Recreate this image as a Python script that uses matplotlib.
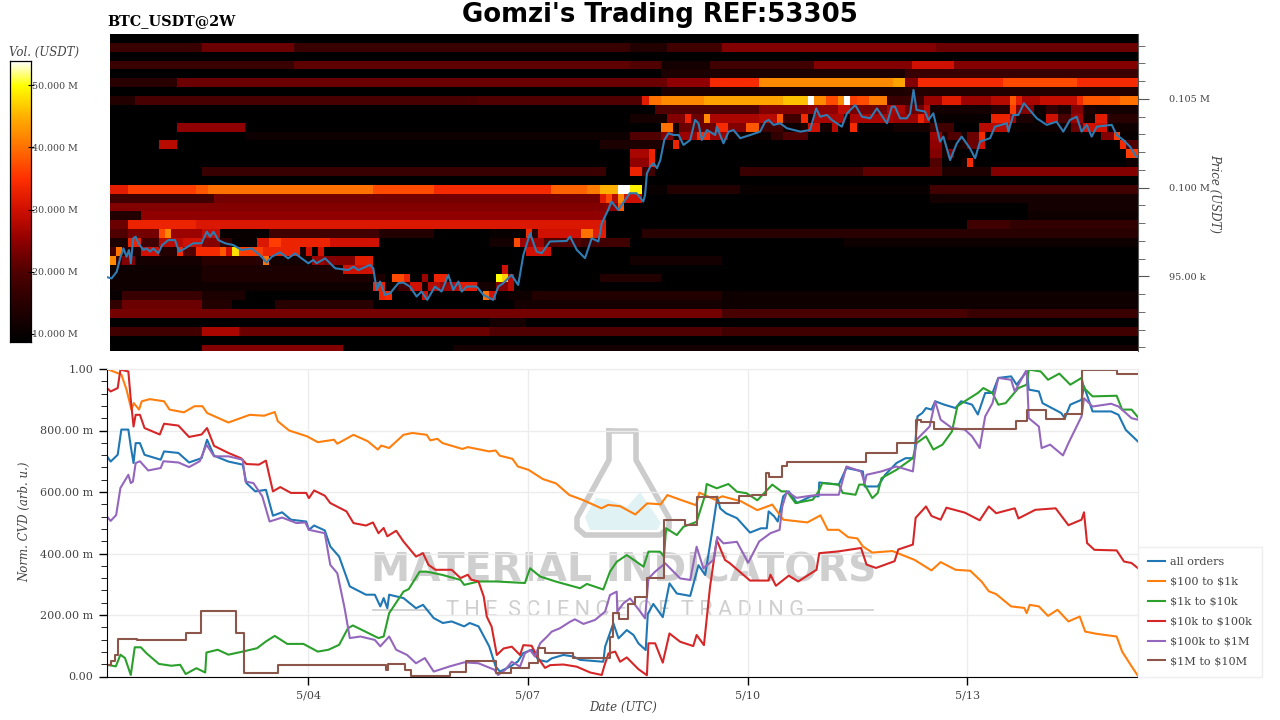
import numpy as np
import matplotlib
matplotlib.use('Agg')
import matplotlib.pyplot as plt
from matplotlib.colors import LinearSegmentedColormap, Normalize

plt.rcParams['font.family'] = 'DejaVu Serif'

# time is in hours since 5/01 00:00
t_price = [6.2,7.5,9.2,10.3,11.4,12.4,13.2,13.8,14.6,15.4,16.3,17.9,19,20.1,21.2,22.8,24.1,26.1,28.3,29.6,31.6,34.3,37,38.7,39.8,40.9,42.5,44.7,47.4,50.1,53.4,56.7,58.3,60,62.7,65.4,67.6,69.8,72,73.6,74.7,77.5,80.8,85.1,86.8,88.4,92.2,93.3,94.4,95.5,97.1,98.8,101.5,103.1,105.3,107.5,109.1,111,113.5,115.7,117.9,119.5,121.2,122.3,123.9,127.2,129.4,132.6,134.3,135.9,138.6,140.8,142.5,144.7,146.8,148.5,151.2,156.7,157.8,160,162.7,164.9,167.1,168.2,170.3,171.4,173.6,177.4,179.6,181.8,182.4,183,184.1,185.2,186.3,187.4,188.7,190.1,191.7,193.4,195,197.2,198.8,199.9,201,202.7,205.4,205.9,208.1,209.8,211.4,213.6,216.9,220.1,221.8,222.9,224.5,226.7,228.9,233.3,236.5,238.5,239.8,242,243.6,246.9,248.6,251.3,253.5,256.2,258.4,261.7,263.3,264.3,266,268.2,269.3,270.4,271.4,274.2,275.3,276.9,279.1,280.2,282.4,284.6,286.2,288.9,290.6,292.2,293.8,295.5,297.1,301,301.5,303.1,304.8,306.6,310.8,314.1,317.3,319.5,321.7,323.9,325.5,327.2,328.8,330.5,335.4,337,339.2,341.4,343.4]
price_k = [94.95,94.89,95.27,96.02,96.58,96.11,96.49,95.74,97.15,97.24,96.87,96.49,96.58,96.4,96.58,96.3,96.77,97.05,97.05,96.4,96.58,96.87,96.87,97.52,97.24,97.52,97.05,96.87,96.77,96.49,96.58,96.11,95.78,96.11,96.36,96.02,96.3,96.02,95.74,95.93,95.74,96.02,95.46,95.36,95.55,95.36,95.65,95.46,94.24,94.71,93.96,94.05,94.62,94.66,94.43,93.87,94.15,93.68,94.43,94.15,95.09,94.24,94.71,94.15,94.43,94.43,93.96,93.68,94.43,94.62,95.09,94.52,96.21,97.44,96.4,96.31,96.97,97.0,97.25,96.5,96.03,97.15,96.97,98,98.75,99.22,98.75,99.69,99.69,99.22,99.59,100.81,101.19,101.38,101.1,101.56,102.69,103.07,102.97,102.97,102.41,102.69,103.82,103.63,102.69,103.25,102.97,103.44,102.5,103.16,103.25,102.79,102.97,103.16,103.72,103.82,103.54,103.63,103.35,103.16,103.25,104.47,104.0,104.1,103.82,103.44,104.19,104.66,104.0,103.91,104.47,103.63,104.57,104.57,103.91,103.91,104.19,105.51,104.38,104.29,103.82,104.19,102.6,102.88,101.56,102.5,102.88,102.22,101.66,102.6,102.69,102.79,103.44,103.63,103.16,104.1,104.1,104.76,103.91,103.54,103.72,103.16,103.82,104.0,103.16,103.54,102.88,103.44,103.54,102.97,102.69,102.31,101.75]

labels = ['all orders', r'\$100 to \$1k', r'\$1k to \$10k', r'\$10k to \$100k', r'\$100k to \$1M', r'\$1M to \$10M']
colors = ['#1f77b4', '#ff7f0e', '#2ca02c', '#d62728', '#9467bd', '#8c564b']

t_all = [6,7.2,9.5,10.7,13,13.8,14.7,15.4,16.8,18.3,23.6,24.7,29.4,32.9,37,38.8,41.1,45.8,50.5,51.7,54.6,58.1,60.4,63.4,66.3,71.3,72.2,73.9,77.4,79.2,82.1,85.6,90.9,93.8,95.6,96.7,97.9,98.5,103.2,107.3,109.6,113.1,116.1,119,123.1,124.9,127.8,131.3,133.4,134.8,138.3,140.7,142.4,145.3,147.4,150.2,151.8,155.6,158.9,161.1,168.7,169.3,172,173.7,176.4,178.6,180.2,182.6,183.3,185.1,188.2,190.4,192.8,197.2,199.9,202.1,204.3,206.1,207,208.9,212.5,216.8,220.4,222.3,222.9,224.7,225.9,227.7,229.5,232.2,236.8,239.3,239.5,245.9,248.4,253.8,254.4,258.7,261.1,264.8,267.8,270.6,271.7,273.3,274.5,276.3,277.5,280.5,284.2,286,289.6,291.5,293.9,296.3,298.2,302.4,304.2,307.6,308.2,311.5,312.7,318.8,320,321.8,325.5,326.3,329.1,335.2,337.6,340,344]
v_all = [.716,.699,.721,.803,.803,.748,.694,.759,.759,.721,.705,.732,.727,.696,.71,.77,.718,.699,.689,.629,.602,.607,.523,.534,.51,.504,.477,.491,.475,.423,.39,.293,.266,.266,.228,.255,.222,.266,.255,.222,.233,.19,.174,.179,.163,.174,.163,.098,.033,.016,.033,.049,.076,.087,.054,.048,.059,.07,.065,.054,.048,.097,.173,.124,.151,.135,.108,.086,.204,.236,.193,.303,.27,.262,.362,.33,.466,.585,.547,.531,.515,.468,.482,.482,.537,.521,.504,.586,.602,.564,.586,.586,.631,.624,.678,.667,.618,.618,.656,.694,.71,.71,.846,.857,.873,.868,.895,.884,.873,.895,.884,.852,.922,.922,.971,.976,.949,.993,.933,.927,.889,.857,.84,.884,.9,.944,.862,.862,.851,.802,.764]

t_100 = [6,10.7,12.4,14,14.8,16.5,17.4,20,24.7,26.5,31.2,34.7,37.3,38.8,45.8,52.8,57.5,61,62,65.7,71.6,75.1,80.4,81.5,86.8,91.5,94.8,95.9,98.5,103.2,106.1,110.8,112,114.3,116,122.5,124.3,131.3,133.4,134.8,138.9,140.7,144.2,148.9,153.2,157.6,162,168.1,170.3,174.2,179.2,183.1,187.5,189.7,194.2,199.1,200.2,205.3,207.7,213.8,219.2,224.1,227.7,235.6,239.9,242.3,245.9,249,252,253.8,256.9,263.5,270.8,276.3,279.3,284.2,289,292.7,295.1,297.5,302.4,306.7,307.5,308.5,311.5,314.5,317.6,321.2,324.9,326.7,330.3,337,338.8,341.9,344]
v_100 = [1.0,.982,.933,.868,.889,.868,.895,.902,.895,.868,.859,.879,.879,.857,.826,.851,.848,.86,.83,.8,.781,.762,.77,.757,.786,.765,.738,.751,.743,.786,.792,.786,.768,.773,.759,.74,.746,.732,.735,.718,.708,.683,.672,.642,.628,.59,.574,.547,.558,.554,.527,.563,.56,.59,.574,.557,.598,.575,.586,.57,.541,.559,.51,.501,.524,.477,.477,.453,.449,.423,.403,.408,.379,.345,.372,.347,.344,.309,.277,.268,.228,.223,.206,.233,.228,.197,.217,.179,.195,.146,.139,.13,.081,.033,.002]

t_1k = [6,8.9,10.4,11.9,13.8,15.1,17.1,18.9,23,27.1,30,31.8,35.3,38.2,38.6,42.3,45.8,50.5,55.2,58.1,61,65.1,70.4,75.1,78.6,82.1,85,86.6,95,96.7,98.5,103.2,104.9,108.5,110.8,116.1,121.9,123.1,127.8,133.6,143,144.7,148,153.4,161.1,163.3,168.7,170.9,173.1,176.4,181.9,183.5,187.3,188.6,189.3,192.8,195,199.3,202.1,202.6,205.9,209.7,212.5,215.7,219.2,224.1,227.1,228.9,231.7,237.4,239.3,240.5,245.9,247.2,251.4,252.6,254.4,256.9,258.7,259.9,264.8,270.2,271.4,274.5,276.9,279.9,283,284.8,287.2,291.5,293.3,296.3,298.2,300.6,304.8,307.5,308.2,312.1,314.5,318.2,321.8,325.5,326.3,329.1,337,338.8,341.9,344]
v_1k = [.038,.033,.071,.06,.005,.095,.095,.076,.041,.035,.038,.008,.027,.013,.078,.087,.071,.081,.092,.114,.132,.106,.106,.081,.087,.103,.157,.166,.125,.13,.206,.276,.284,.341,.341,.33,.314,.298,.309,.309,.304,.352,.325,.308,.287,.301,.283,.341,.373,.395,.357,.406,.406,.39,.482,.46,.487,.503,.59,.626,.612,.626,.601,.596,.573,.624,.602,.602,.564,.575,.602,.629,.624,.597,.591,.624,.624,.58,.597,.645,.672,.71,.759,.781,.738,.754,.797,.879,.895,.922,.938,.922,.884,.889,.938,.949,.998,.992,.965,.985,.949,.971,.938,.911,.913,.868,.868,.843]

t_10k = [6,7.2,9.5,10.4,13,13.8,14.7,15.4,16.8,18.3,23.3,24.7,29.4,32.9,37,38.8,41.1,45.8,49.9,51.7,55.8,58.1,60.4,62.8,66.3,71.3,72.2,73.9,77.4,79.2,84.5,86.8,90.9,93.2,95,96.7,97.9,100.8,103.2,107.3,109.6,111.4,113.7,119,121.9,124.3,125.4,127.8,129.5,130.5,132.1,133.8,136,138.7,141.4,142.5,145.2,147.4,149.6,151.3,155.6,160,164.4,168.2,169,170.4,172.6,174.2,176.4,180.2,183,183.5,185.7,188.2,190.4,193.9,198.2,199.3,201.7,203.7,205.9,208.6,210.1,216.8,222.9,223.5,225.3,229.5,232.6,238.6,239.5,245.9,253.2,255,258.1,264.2,265.4,270.2,271.1,274.5,276.3,279.3,281.2,287.2,292.1,295.1,297.5,303.6,304.8,310.3,317,321.2,325.5,326.3,327.3,329.7,337,339.4,341.9,344]
v_10k = [.938,.927,.938,.998,.992,.9,.813,.851,.851,.808,.787,.822,.816,.779,.787,.808,.75,.727,.71,.691,.689,.702,.602,.616,.597,.597,.58,.605,.588,.564,.537,.499,.491,.501,.466,.483,.456,.474,.439,.39,.401,.363,.347,.347,.32,.331,.315,.309,.26,.195,.162,.07,.091,.097,.07,.102,.1,.059,.028,.037,.039,.032,.013,.005,.033,.075,.081,.048,.062,.024,.004,.108,.108,.045,.14,.113,.099,.135,.102,.292,.444,.379,.369,.312,.312,.331,.295,.328,.309,.347,.401,.407,.418,.364,.353,.375,.413,.429,.516,.553,.522,.51,.549,.533,.508,.553,.531,.547,.514,.542,.547,.492,.51,.534,.434,.412,.41,.374,.369,.352]

t_100k = [6,7.2,9,10.4,13,13.8,14.5,15.4,16.8,19.5,23.6,24.5,29.4,32.9,36.4,38.6,41.1,45.8,50.5,51.4,54,56.9,59.3,63.4,68.1,71,72.2,77.4,79.2,81.5,83.9,85.6,89.1,93.8,95.6,98.5,100.8,104.4,107.3,110.2,113.1,118.4,123.1,127.8,133,134.2,136.5,138.7,141.4,143,144.7,146.3,148,150.2,151.8,154.5,157.8,159.4,162.2,166,169.3,170.9,173.1,173.3,175.3,177.5,180.8,182.4,183.5,185.7,189,191.7,193.9,197.2,199.3,201.5,204.8,206.1,208.1,212.5,216.2,219.8,223.5,226.5,227.4,228.9,232,236.8,239.3,245.9,248.4,253.2,254.4,255,259.9,264.8,270.2,271.4,275.7,277.5,279.3,283,287.2,289.6,292.1,293.9,296.3,298.2,302.4,303.6,307.5,308.2,311.5,312.4,315.2,319.4,321.2,325.5,326.3,329.1,335.2,337.6,341.9,344]
v_100k = [.52,.506,.525,.613,.656,.629,.634,.694,.7,.67,.678,.7,.696,.681,.7,.754,.716,.716,.705,.634,.629,.586,.504,.517,.499,.501,.477,.466,.363,.336,.222,.125,.13,.119,.098,.13,.087,.07,.043,.06,.016,.033,.046,.043,.022,.005,.021,.048,.032,.075,.086,.065,.108,.129,.146,.157,.178,.186,.171,.184,.211,.265,.276,.211,.238,.254,.211,.189,.319,.341,.368,.341,.319,.314,.422,.352,.379,.454,.433,.438,.37,.439,.466,.477,.553,.602,.581,.588,.591,.591,.683,.667,.629,.656,.667,.683,.667,.77,.813,.895,.835,.808,.803,.781,.743,.846,.889,.971,.965,.927,.998,.84,.813,.743,.754,.719,.759,.846,.905,.878,.887,.878,.84,.835]

t_1m = [6,7.4,8.6,9.5,15.9,32,36.9,48.4,51,61.9,97.5,98.2,103.8,105.5,118.4,123.6,133.6,138.3,144.2,147.4,149.6,158.9,170.9,172,173.7,176.9,179.1,183,188.6,195.5,199.3,206.1,213.2,217.4,222,222.9,227.4,229,254.8,265.1,271.3,273,277.1,304.1,307.7,313.9,320,325.8,337.1,344]
v_1m = [.038,.049,.071,.123,.119,.143,.212,.143,.011,.036,.022,.04,.022,.001,.016,.049,.011,.027,.043,.092,.075,.059,.13,.205,.187,.236,.259,.319,.509,.492,.585,.565,.586,.589,.662,.648,.683,.697,.727,.759,.835,.828,.805,.832,.866,.837,.855,.998,.984,.984]

series_t = [t_all, t_100, t_1k, t_10k, t_100k, t_1m]
series_v = [v_all, v_100, v_1k, v_10k, v_100k, v_1m]

# resting volume in M USDT: row (from the top) -> (first col, last col, value), cols are 2h wide
n_rows, n_cols = 36, 168
empty_vol = 9
vol_rows = {
    1: [(0,15,17),(15,30,22),(30,85,17),(85,91,14),(91,100,18),(100,135,24),(135,168,22)],
    3: [(0,30,17),(30,85,21),(85,90,20),(90,98,12),(98,115,18),(115,131,24),(131,138,30),(138,168,24)],
    4: [(90,130,13),(130,168,17)],
    5: [(0,11,15),(11,85,22),(85,91,22),(91,98,25),(98,106,34),(106,128,42),(128,130,44),(130,132,24),(132,146,34),(146,158,37),(158,168,34)],
    6: [(90,130,13),(130,168,14)],
    7: [(0,4,14),(4,60,19),(60,87,20),(87,88,32),(88,90,40),(90,97,42),(97,103,44),(103,110,44),(110,114,46),(114,115,54),(115,117,42),(117,119,37),(119,120,42),(120,121,54),(121,122,36),(122,124,37),(124,127,41),(127,133,17),(133,136,26),(136,139,32),(139,144,26),(144,147,28),(147,148,38),(148,149,32),(149,152,27),(152,158,29),(158,159,34),(159,165,38),(165,168,40)],
    8: [(89,106,20),(106,114,24),(114,119,25),(119,121,29),(121,127,23),(127,130,27),(130,133,22),(133,134,28),(134,144,12),(144,147,15),(147,148,36),(148,151,24),(151,153,11),(153,155,16),(155,157,13),(157,159,24),(159,161,13),(161,168,12)],
    9: [(85,91,12),(91,94,24),(94,95,33),(95,97,22),(97,98,42),(98,106,27),(106,109,28),(109,110,38),(110,113,18),(113,114,34),(114,115,12),(115,120,27),(120,121,10),(121,128,27),(128,132,26),(132,133,33),(133,134,28),(134,144,10),(144,147,33),(147,148,26),(148,151,13),(153,155,30),(155,157,19),(157,159,26),(159,161,12),(161,163,32),(163,168,15)],
    10: [(11,22,25),(90,92,40),(92,93,12),(93,99,22),(99,101,34),(101,104,24),(104,106,38),(106,110,18),(110,113,11),(113,114,13),(114,116,30),(116,118,12),(118,119,28),(119,121,10),(121,122,34),(122,128,10),(128,134,12),(134,138,18),(142,147,28),(147,152,10),(152,157,11),(157,159,22),(159,163,30),(163,168,11)],
    11: [(22,85,11),(85,90,20),(90,92,24),(92,93,12),(93,96,26),(96,98,34),(98,101,26),(101,108,11),(108,110,16),(110,114,20),(134,136,26),(136,137,14),(137,139,20),(139,140,12),(140,142,22),(142,143,34),(162,164,24),(164,165,36),(165,168,10)],
    12: [(8,11,28),(80,90,13),(90,92,11),(92,93,33),(134,136,25),(136,139,11),(139,140,14),(140,142,22),(142,143,30),(165,166,34),(166,168,20)],
    13: [(85,88,27),(88,89,33),(134,136,24),(136,137,12),(137,138,24),(166,168,36)],
    14: [(85,88,25),(88,89,33),(134,136,20),(139,140,12),(140,141,34),(166,168,11)],
    15: [(15,81,17),(85,87,33),(87,89,18),(103,123,17),(123,136,21),(136,144,13),(144,168,24)],
    17: [(0,3,32),(3,14,36),(14,16,38),(16,43,40),(43,53,37),(53,72,34),(72,78,39),(78,80,41),(80,83,45),(83,85,54),(85,87,49),(87,91,10),(91,103,14),(103,134,10),(134,168,18)],
    18: [(0,17,18),(17,80,23),(80,81,32),(81,82,37),(82,83,28),(83,84,42),(84,87,30),(134,168,12)],
    19: [(0,81,24),(81,83,25),(83,84,38),(150,168,12)],
    20: [(0,5,14),(5,81,25),(150,168,11)],
    21: [(0,3,22),(3,14,33),(14,81,31),(140,147,18),(147,168,16)],
    22: [(0,3,20),(3,8,23),(8,9,37),(9,10,42),(10,15,26),(15,18,29),(18,26,10),(26,44,18),(44,53,14),(62,68,10),(68,69,34),(69,70,15),(70,77,30),(77,79,40),(79,81,32),(87,168,15)],
    23: [(0,3,13),(3,5,33),(5,8,18),(8,12,28),(12,15,30),(15,18,24),(18,20,16),(20,24,10),(24,26,31),(26,28,36),(28,36,33),(36,44,30),(62,66,12),(66,67,37),(67,71,26),(71,77,20),(77,85,18),(120,168,11)],
    24: [(0,1,18),(1,2,40),(2,5,14),(5,8,30),(8,11,14),(11,12,34),(12,14,20),(14,18,34),(18,19,38),(19,20,30),(20,21,48),(21,25,36),(25,31,33),(31,32,12),(32,33,30),(34,35,30),(68,72,30)],
    25: [(0,1,42),(1,2,16),(2,4,24),(4,15,12),(15,25,15),(25,26,40),(26,33,12),(33,35,26),(35,40,24),(40,43,32),(85,100,12)],
    26: [(0,15,11),(15,38,13),(38,43,30),(64,65,30)],
    27: [(0,15,11),(15,45,13),(46,48,37),(48,49,33),(51,52,26),(53,55,33),(63,64,50),(64,65,47),(65,66,28),(80,90,14)],
    28: [(0,43,11),(43,45,33),(45,47,11),(47,49,18),(49,51,30),(51,52,12),(52,54,28),(54,56,26),(56,57,28),(57,60,32),(60,63,12),(63,65,24),(65,66,28)],
    29: [(0,2,10),(2,15,17),(15,22,13),(44,45,33),(45,46,34),(51,52,30),(61,62,40),(62,63,30),(63,65,10),(65,69,11),(69,100,14),(100,168,11)],
    30: [(0,2,16),(2,15,22),(15,20,14),(27,43,15),(66,100,12),(100,168,11)],
    31: [(0,100,23),(100,140,19),(140,168,17)],
    32: [(62,68,12)],
    33: [(0,15,18),(15,21,27),(21,62,22),(62,100,20),(100,168,18)],
    35: [(15,38,24),(56,168,12)],
}

volume = np.full((n_rows, n_cols), empty_vol, dtype=float)
for row, segs in vol_rows.items():
    for c0, c1, val in segs:
        volume[row, c0:c1] = val

vol_ticks = [10, 20, 30, 40, 50]
vol_labels = ['10.000 M', '20.000 M', '30.000 M', '40.000 M', '50.000 M']
vmin, vmax = 8.7, 53.9

W, H = 1280, 720
def rect(x0, y0, x1, y1):
    return [x0 / W, 1 - y1 / H, (x1 - x0) / W, (y1 - y0) / H]

anchors = [(8.7,'#000000'),(15,'#2a0000'),(20,'#500000'),(25,'#900000'),(30,'#d01000'),(35,'#ff3000'),(40,'#ff7000'),(45,'#ffb000'),(50,'#ffff00'),(53.9,'#ffffff')]
cmap = LinearSegmentedColormap.from_list('vol', [((v - vmin) / (vmax - vmin), c) for v, c in anchors])
norm = Normalize(vmin, vmax)

fig = plt.figure(figsize=(12.8, 7.2), dpi=100)
label_col = '#444444'

# watermark sits under the lines
wm = fig.add_axes([0, 0, 1, 1], zorder=-1)
wm.set_xlim(0, W)
wm.set_ylim(H, 0)
wm.axis('off')
wm.fill([585,596,607,627,640,661,657,590], [517,498,499,507,492,523,530,530], color='#e0f2f4', lw=0)
wm.plot([609,609,577,577,585,660,669,669,636,636,609], [431,460,518,528,535,535,528,518,460,431,431], color='#cccccc', lw=4, solid_joinstyle='round')
wm.text(623.5, 571, 'MATERIAL INDICATORS', color='#cfcfcf', fontsize=28.4, fontweight='bold', family='DejaVu Sans', ha='center', va='center')
wm.text(625, 611, 'T H E  S C I E N C E  O F  T R A D I N G', color='#cfcfcf', fontsize=15.7, family='Roboto', ha='center', va='center')
wm.plot([373, 430], [610, 610], color='#cccccc', lw=1.2)
wm.plot([808, 873], [610, 610], color='#cccccc', lw=1.2)

# heatmap and price
ax = fig.add_axes(rect(107, 34, 1138, 351))
ax.patch.set_alpha(0)
t_edges = np.linspace(7, 344, n_cols + 1)
price_edges = 108660 - 500 * np.arange(n_rows + 1)
ax.pcolormesh(t_edges, price_edges, volume, cmap=cmap, norm=norm, shading='flat')
ax.plot(t_price, np.array(price_k) * 1000, color='#2f7cb3', lw=1.5)
ax.set_xlim(6, 344)
ax.set_ylim(90800, 108660)
ax.set_xticks([])
for s in ['top', 'left', 'bottom']:
    ax.spines[s].set_visible(False)
ax.spines['right'].set_color('#555555')
ax.yaxis.tick_right()
ax.set_yticks([95000, 100000, 105000], labels=['95.00 k', '0.100 M', '0.105 M'])
ax.set_yticks(np.arange(91000, 109000, 1000), minor=True)
ax.tick_params(axis='y', which='major', length=8, color='#555555', labelsize=7, labelcolor=label_col, pad=14)
ax.tick_params(axis='y', which='minor', length=5, color='#555555')

# volume colour bar
cax = fig.add_axes(rect(10, 61, 31, 342))
cax.imshow(np.linspace(vmax, vmin, 256).reshape(-1, 1), cmap=cmap, norm=norm, aspect='auto', extent=[0, 1, vmin, vmax])
cax.set_xticks([])
cax.yaxis.tick_right()
cax.set_yticks(vol_ticks, labels=vol_labels)
cax.tick_params(axis='y', length=5, direction='inout', labelsize=6.8, labelcolor=label_col, pad=-2)
for s in cax.spines.values():
    s.set_linewidth(0.9)

# normalised CVD lines
bx = fig.add_axes(rect(107, 369, 1138, 676.5))
bx.patch.set_alpha(0)
bx.grid(True, color='#ececec', lw=1)
bx.set_axisbelow(True)
for t, v, c, lab in zip(series_t, series_v, colors, labels):
    bx.plot(t, v, color=c, lw=1.5, label=lab, drawstyle='steps-post' if t is t_1m else 'default')
bx.set_xlim(6, 344)
bx.set_ylim(0, 1)
bx.set_xticks([72, 144, 216, 288], labels=['5/04', '5/07', '5/10', '5/13'])
bx.set_yticks([0, .2, .4, .6, .8, 1], labels=['0.00', '200.00 m', '400.00 m', '600.00 m', '800.00 m', '1.00'])
bx.set_yticks(np.arange(0, 1.001, .04), minor=True)
bx.tick_params(axis='both', which='major', length=6, labelsize=8, labelcolor=label_col, width=1, pad=4)
bx.tick_params(axis='y', which='minor', length=4)
for s in ['top', 'right']:
    bx.spines[s].set_color('#ececec')
leg = bx.legend(loc='lower left', bbox_to_anchor=(1.0, 0.0), borderaxespad=0, fontsize=8.1, frameon=True,
                fancybox=False, edgecolor='#eeeeee', framealpha=1, handlelength=1.5, handletextpad=0.45,
                labelspacing=0.88, borderpad=0.9)
for txt in leg.get_texts():
    txt.set_color(label_col)

# titles and axis names
fig.text(107 / W, 1 - 21 / H, 'BTC_USDT@2W', fontsize=10.35, fontweight='bold', va='center', ha='left')
fig.text(660 / W, 1 - 15 / H, "Gomzi's Trading REF:53305", fontsize=18.7, fontweight='bold', family='DejaVu Sans', va='center', ha='center', color='black')
fig.text(44.5 / W, 1 - 52 / H, 'Vol. (USDT)', fontsize=8.5, style='italic', color=label_col, va='center', ha='center')
fig.text(1215 / W, 1 - 193 / H, 'Price (USDT)', fontsize=8.5, style='italic', color=label_col, rotation=-90, va='center', ha='center')
fig.text(24.5 / W, 1 - 522 / H, 'Norm. CVD (arb. u.)', fontsize=8.5, style='italic', color=label_col, rotation=90, va='center', ha='center')
fig.text(623 / W, 1 - 707 / H, 'Date (UTC)', fontsize=8.5, style='italic', color=label_col, va='center', ha='center')

fig.savefig('out.png', dpi=100)
